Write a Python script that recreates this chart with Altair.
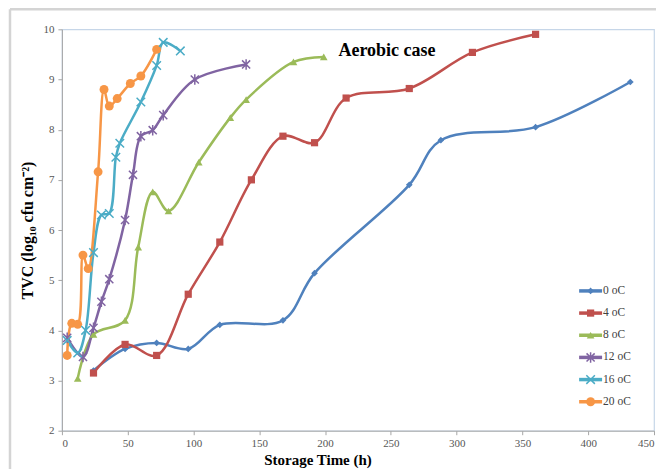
import altair as alt
import pandas as pd

# ---- data ----
series = ["0 oC", "4 oC", "8 oC", "12 oC", "16 oC", "20 oC"]
colors = ["#4F81BD", "#C0504D", "#9BBB59", "#8064A2", "#4BACC6", "#F79646"]

t0 = [24, 48, 72, 96, 120, 168, 192, 264, 288, 360, 432]
v0 = [3.2, 3.63, 3.75, 3.63, 4.11, 4.2, 5.14, 6.9, 7.79, 8.05, 8.95]

t4 = [24, 48, 72, 96, 120, 144, 168, 192, 216, 264, 312, 360]
v4 = [3.15, 3.72, 3.5, 4.72, 5.76, 7.0, 7.87, 7.74, 8.63, 8.82, 9.54, 9.9]

t8 = [12, 24, 48, 58, 69, 81, 104, 128, 140, 176, 199]
v8 = [3.04, 3.92, 4.2, 5.66, 6.76, 6.38, 7.35, 8.24, 8.6, 9.35, 9.45]

t12 = [4, 16, 24, 30, 36, 48, 54, 60, 69, 77, 101, 140]
v12 = [3.85, 3.47, 4.05, 4.57, 5.02, 6.2, 7.1, 7.87, 7.99, 8.29, 9.0, 9.3]

t16 = [4, 12, 18, 24, 30, 36, 41, 44, 60, 72, 77, 90]
v16 = [3.8, 3.55, 4.0, 5.55, 6.3, 6.33, 7.45, 7.73, 8.55, 9.28, 9.74, 9.57]

t20 = [4, 7.5, 12, 16, 20, 27.5, 32, 36, 42, 52, 60, 72]
v20 = [3.5, 4.14, 4.12, 5.5, 5.23, 7.16, 8.8, 8.47, 8.62, 8.92, 9.07, 9.6]

x_ticks = [0, 50, 100, 150, 200, 250, 300, 350, 400, 450]
y_ticks = [2, 3, 4, 5, 6, 7, 8, 9, 10]

times = [t0, t4, t8, t12, t16, t20]
vals = [v0, v4, v8, v12, v16, v20]

rows = []
for s, ts, vs in zip(series, times, vals):
    for i, (t, v) in enumerate(zip(ts, vs)):
        rows.append({"series": s, "t": t, "v": v, "i": i})
df = pd.DataFrame(rows)
leg = pd.DataFrame({"series": series})
one = pd.DataFrame({"a": [0]})

filled_series = ["0 oC", "4 oC", "8 oC", "20 oC"]
stroked_series = ["12 oC", "16 oC"]

X_PATH = "M-1,-1L1,1M-1,1L1,-1"
STAR_PATH = "M-1,-1L1,1M-1,1L1,-1M0,-1.3L0,1.3"
shapes = ["diamond", "square", "triangle-up", STAR_PATH, X_PATH, "circle"]

color_scale = alt.Scale(domain=series, range=colors)
shape_scale = alt.Scale(domain=series, range=shapes)
size_scale = alt.Scale(domain=series, range=[45, 80, 70, 55, 55, 75])

SERIF = "Liberation Serif"
SANS = "Liberation Sans Narrow"

x_enc = alt.X(
    "t:Q",
    scale=alt.Scale(domain=[0, 450], nice=False),
    axis=alt.Axis(
        values=x_ticks, title="Storage Time (h)", titleFont=SERIF,
        titleFontWeight="bold", titleFontSize=15, titleColor="#000",
        titleX=256, titleY=29, titleBaseline="middle", titleAlign="center",
        labelFont=SANS, labelFontSize=11, labelColor="#555",
        domainColor="#a6a6a6", tickColor="#a6a6a6", tickSize=4,
        labelPadding=3, grid=False,
    ),
)
y_scale = alt.Scale(domain=[2, 10], nice=False)
y_axis_enc = alt.Y(
    "v:Q",
    scale=y_scale,
    axis=alt.Axis(
        values=y_ticks, title="TVC (log₁₀ cfu cm⁻²)", titleFont=SERIF,
        titleFontWeight="bold", titleFontSize=16, titleColor="#000",
        titleX=-34, titleY=201, titleBaseline="middle", titleAlign="center",
        labelFont=SANS, labelFontSize=11, labelColor="#555",
        domainColor="#a6a6a6", tickColor="#a6a6a6", tickSize=4,
        labelPadding=4, grid=False,
    ),
)
y_plain = alt.Y("v:Q", scale=y_scale, axis=None)

lines = alt.Chart(df).mark_line(strokeWidth=2.5, interpolate="catmull-rom").encode(
    x=x_enc, y=y_axis_enc,
    color=alt.Color("series:N", scale=color_scale, legend=None),
    order="i:Q",
)

pts_filled = alt.Chart(df).transform_filter(
    alt.FieldOneOfPredicate(field="series", oneOf=filled_series)
).mark_point(filled=True, opacity=1).encode(
    x="t:Q", y=y_plain,
    color=alt.Color("series:N", scale=color_scale, legend=None),
    shape=alt.Shape("series:N", scale=shape_scale, legend=None),
    size=alt.Size("series:N", scale=size_scale, legend=None),
)

pts_stroked = alt.Chart(df).transform_filter(
    alt.FieldOneOfPredicate(field="series", oneOf=stroked_series)
).mark_point(filled=False, strokeWidth=1.5, opacity=1).encode(
    x="t:Q", y=y_plain,
    color=alt.Color("series:N", scale=color_scale, legend=None),
    shape=alt.Shape("series:N", scale=shape_scale, legend=None),
    size=alt.Size("series:N", scale=size_scale, legend=None),
)

# legend (built from the series list through a point scale)
leg_y = alt.Y("series:N", scale=alt.Scale(type="point", domain=series, range=[262, 373], padding=0), axis=None)

leg_lines = alt.Chart(leg).mark_rule(strokeWidth=3.5).encode(
    x=alt.value(518), x2=alt.value(541), y=leg_y,
    color=alt.Color("series:N", scale=color_scale, legend=None),
)
leg_pf = alt.Chart(leg).transform_filter(
    alt.FieldOneOfPredicate(field="series", oneOf=filled_series)
).mark_point(filled=True, opacity=1).encode(
    x=alt.value(529.5), y=leg_y,
    color=alt.Color("series:N", scale=color_scale, legend=None),
    shape=alt.Shape("series:N", scale=shape_scale, legend=None),
    size=alt.Size("series:N", scale=size_scale, legend=None),
)
leg_ps = alt.Chart(leg).transform_filter(
    alt.FieldOneOfPredicate(field="series", oneOf=stroked_series)
).mark_point(filled=False, strokeWidth=1.5, opacity=1).encode(
    x=alt.value(529.5), y=leg_y,
    color=alt.Color("series:N", scale=color_scale, legend=None),
    shape=alt.Shape("series:N", scale=shape_scale, legend=None),
    size=alt.Size("series:N", scale=size_scale, legend=None),
)
leg_text = alt.Chart(leg).mark_text(
    align="left", baseline="middle", font=SANS, fontSize=11.5, color="#404040", dx=1
).encode(x=alt.value(541), y=leg_y, text="series:N")

label = alt.Chart(one).mark_text(
    text="Aerobic case", align="left", baseline="middle", font=SERIF,
    fontWeight="bold", fontSize=18, color="#000"
).encode(x=alt.value(277), y=alt.value(22))

frame_top = alt.Chart(one).mark_rule(color="#d4d4d4", strokeWidth=2.5).encode(
    x=alt.value(-52), x2=alt.value(600), y=alt.value(-20)
)
frame_left = alt.Chart(one).mark_rule(color="#d4d4d4", strokeWidth=2.5).encode(
    x=alt.value(-52), y=alt.value(-20), y2=alt.value(445)
)

chart = alt.layer(
    frame_top, frame_left, lines, pts_filled, pts_stroked,
    leg_lines, leg_pf, leg_ps, leg_text, label,
).resolve_scale(y="independent").properties(
    width=593, height=402,
    padding={"left": 54, "top": 21, "right": 2, "bottom": 38},
    autosize=alt.AutoSizeParams(type="none"),
).configure_view(stroke="#c6d6e8", strokeWidth=1.2)

chart.save("out.html", embed_options={"renderer": "svg", "actions": False})
